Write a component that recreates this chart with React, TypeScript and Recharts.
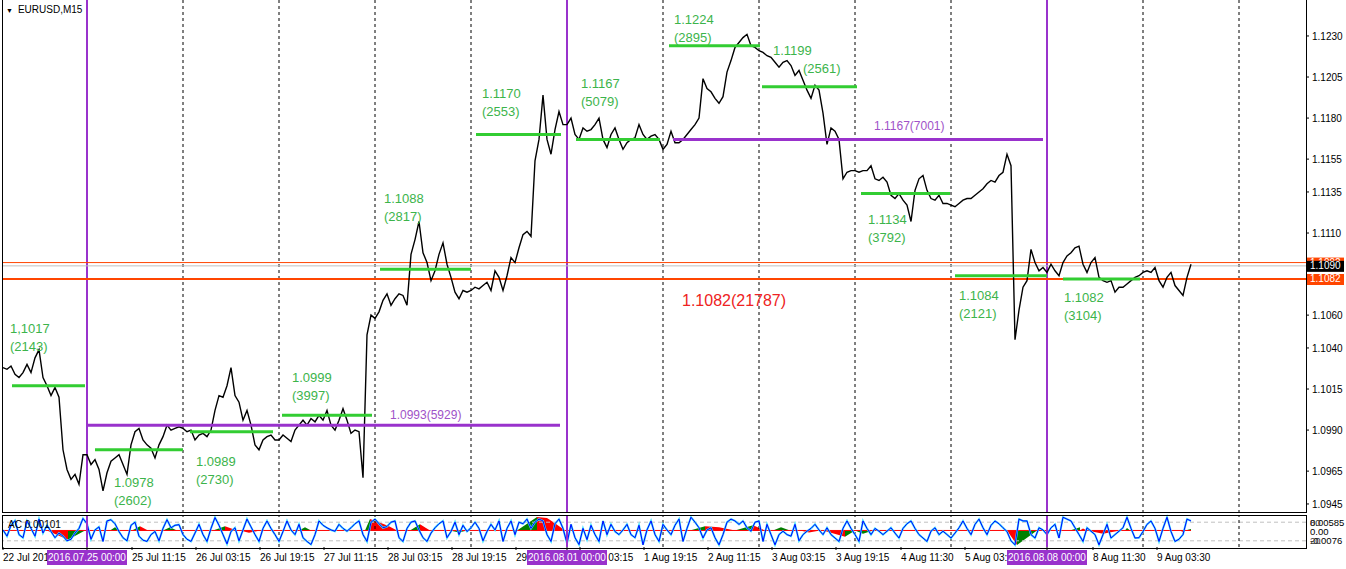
import React from 'react';
import { ComposedChart, Line, Area, XAxis, YAxis, ReferenceLine, ReferenceDot } from 'recharts';

const W = 1346;
const FONT = '"Liberation Sans", Arial, sans-serif';
const GREEN = '#32cd32';
const GREEN_TEXT = '#3cb44b';
const PURPLE = '#9932cc';
const PURPLE_TEXT = '#a052c8';
const RED = '#ff4500';

// x = trading hours from 2016.07.25 00:00 (M15 bars, weekends skipped)
const X_DOMAIN: [number, number] = [-21.25, 304.75];
const FIRST_HOUR = -21;

// EURUSD close, one value per hour
const jul22 = [1.1028, 1.1027, 1.1029, 1.1024, 1.1022, 1.1025, 1.1030, 1.1025, 1.1034, 1.1039, 1.1022, 1.1017, 1.1011, 1.1016, 1.1010, 1.0978, 1.0966, 1.0960, 1.0963, 1.0957, 1.0975];
const jul25 = [1.0975, 1.0969, 1.0972, 1.0966, 1.0953, 1.0964, 1.0971, 1.0973, 1.0975, 1.0969, 1.0963, 1.0981, 1.0989, 1.0991, 1.0984, 1.0981, 1.0979, 1.0973, 1.0981, 1.0986, 1.0993, 1.0990, 1.0991, 1.0992];
const jul26 = [1.0991, 1.0989, 1.0990, 1.0984, 1.0987, 1.0988, 1.0986, 1.0990, 1.1002, 1.1011, 1.1010, 1.1017, 1.1028, 1.1011, 1.1007, 1.0996, 1.1002, 1.0993, 1.0981, 1.0978, 1.0984, 1.0986, 1.0987, 1.0984];
const jul27 = [1.0984, 1.0987, 1.0985, 1.0983, 1.0990, 1.0993, 1.0996, 1.0993, 1.0997, 1.0995, 1.0999, 1.0996, 1.1002, 1.0993, 1.0990, 1.0996, 1.1003, 1.0996, 1.0988, 1.0990, 1.0989, 1.0961, 1.1048, 1.1060];
const jul28 = [1.1058, 1.1062, 1.1069, 1.1073, 1.1066, 1.1070, 1.1073, 1.1072, 1.1066, 1.1097, 1.1106, 1.1117, 1.1098, 1.1092, 1.1081, 1.1087, 1.1097, 1.1104, 1.1091, 1.1083, 1.1074, 1.1070, 1.1075, 1.1074];
const jul29 = [1.1075, 1.1077, 1.1076, 1.1078, 1.1080, 1.1075, 1.1087, 1.1083, 1.1075, 1.1084, 1.1095, 1.1092, 1.1101, 1.1109, 1.1111, 1.1108, 1.1154, 1.1167, 1.1194, 1.1167, 1.1158, 1.1173, 1.1184, 1.1176];
const aug01 = [1.1176, 1.1180, 1.1170, 1.1167, 1.1174, 1.1172, 1.1173, 1.1176, 1.1180, 1.1167, 1.1162, 1.1170, 1.1174, 1.1167, 1.1161, 1.1165, 1.1167, 1.1168, 1.1176, 1.1170, 1.1167, 1.1169, 1.1170, 1.1167];
const aug02 = [1.1161, 1.1164, 1.1172, 1.1165, 1.1165, 1.1167, 1.1170, 1.1173, 1.1176, 1.1180, 1.1204, 1.1198, 1.1196, 1.1192, 1.1189, 1.1193, 1.1208, 1.1215, 1.1223, 1.1226, 1.1229, 1.1231, 1.1224, 1.1223];
const aug03 = [1.1221, 1.1220, 1.1218, 1.1217, 1.1214, 1.1211, 1.1214, 1.1215, 1.1212, 1.1206, 1.1209, 1.1203, 1.1197, 1.1192, 1.1200, 1.1197, 1.1183, 1.1164, 1.1174, 1.1172, 1.1167, 1.1143, 1.1147, 1.1148];
const aug04 = [1.1148, 1.1147, 1.1148, 1.1148, 1.1151, 1.1143, 1.1142, 1.1144, 1.1141, 1.1133, 1.1131, 1.1134, 1.1130, 1.1127, 1.1117, 1.1136, 1.1143, 1.1145, 1.1136, 1.1131, 1.1130, 1.1133, 1.1128, 1.1128];
const aug05 = [1.1127, 1.1126, 1.1128, 1.1130, 1.1131, 1.1131, 1.1133, 1.1135, 1.1137, 1.1140, 1.1142, 1.1141, 1.1145, 1.1147, 1.1158, 1.1151, 1.1045, 1.1063, 1.1077, 1.1081, 1.1100, 1.1092, 1.1087, 1.1089];
const aug08 = [1.1086, 1.1091, 1.1087, 1.1084, 1.1092, 1.1096, 1.1098, 1.1101, 1.1102, 1.1091, 1.1086, 1.1092, 1.1095, 1.1083, 1.1081, 1.1080, 1.1081, 1.1074, 1.1077, 1.1077, 1.1079, 1.1081, 1.1083, 1.1084];
const aug09 = [1.1086, 1.1087, 1.1086, 1.1089, 1.1081, 1.1077, 1.1083, 1.1086, 1.1078, 1.1075, 1.1072, 1.1083, 1.1091];

// oscillator (0-100), same hours
const stJul22 = [55, 35, 70, 85, 40, 30, 84, 60, 35, 90, 45, 70, 50, 30, 45, 35, 20, 25, 45, 60, 92];
const stJul25 = [75, 25, 55, 65, 18, 84, 88, 75, 50, 30, 20, 70, 80, 35, 22, 18, 40, 50, 20, 60, 88, 62, 70, 72];
const stJul26 = [40, 25, 18, 45, 73, 40, 18, 60, 95, 70, 40, 10, 50, 62, 20, 55, 90, 65, 40, 18, 60, 84, 60, 40];
const stJul27 = [18, 50, 84, 55, 40, 73, 30, 18, 8, 40, 84, 70, 62, 55, 51, 73, 60, 51, 62, 75, 84, 40, 18, 80];
const stJul28 = [90, 75, 62, 66, 80, 84, 30, 18, 60, 80, 84, 55, 30, 18, 45, 62, 75, 84, 30, 50, 80, 40, 70, 50];
const stJul29 = [62, 80, 60, 20, 50, 73, 55, 84, 18, 60, 84, 40, 80, 75, 90, 60, 80, 90, 84, 40, 18, 75, 90, 60];
const stAug01 = [12, 73, 30, 8, 60, 24, 70, 40, 18, 84, 40, 73, 50, 40, 55, 73, 40, 30, 70, 7, 55, 84, 40, 18];
const stAug02 = [73, 55, 40, 70, 90, 18, 60, 96, 80, 62, 29, 55, 62, 30, 7, 40, 80, 90, 84, 73, 84, 62, 51, 80];
const stAug03 = [84, 18, 73, 40, 7, 40, 51, 40, 35, 73, 20, 40, 51, 60, 73, 55, 40, 62, 40, 29, 18, 60, 84, 60];
const stAug04 = [40, 18, 84, 60, 40, 60, 51, 40, 51, 62, 45, 29, 60, 75, 84, 60, 40, 29, 18, 51, 62, 40, 51, 40];
const stAug05 = [29, 45, 62, 84, 60, 40, 73, 90, 62, 40, 70, 84, 75, 62, 50, 20, 7, 90, 84, 84, 40, 29, 62, 55];
const stAug08 = [40, 62, 73, 29, 96, 90, 84, 62, 40, 18, 62, 51, 40, 7, 40, 73, 29, 40, 51, 62, 96, 60, 29, 30];
const stAug09 = [50, 73, 84, 60, 18, 60, 96, 50, 18, 25, 40, 90, 84];

// AC histogram, [hour, value]
const acGreen = [
  [-4.75, 0], [-4.75, -0.0059], [-0.5, 0], [5.75, 0], [7, 0.002], [8.25, 0], [11.25, 0], [13.25, 0.0026], [13.25, 0],
  [19, 0], [20.75, 0.002], [22.5, 0], [31.5, 0], [34.5, 0.0026], [34.5, 0], [53, 0], [54.5, 0.002], [56, 0],
  [69.5, 0], [70.75, 0.0072], [70.75, 0], [80.75, 0], [83.25, 0.0039], [83.25, 0], [90.75, 0], [93, -0.0013], [95, 0],
  [107.5, 0], [112.5, 0.0085], [112.5, 0], [150.75, 0], [154.5, 0.0026], [154.5, 0], [162, 0], [166.5, 0.0033], [166.5, 0],
  [171.5, 0], [173.5, 0.002], [175.75, 0], [189.5, 0], [189.5, -0.0039], [192, 0], [194, -0.002], [196.5, 0],
  [232.5, 0], [232.5, -0.0091], [237.5, 0], [245.75, 0], [248.25, 0.002], [248.25, 0], [259.5, 0], [260, 0.0015], [260.75, 0],
  [274.5, 0], [276, 0.001],
];
const acRed = [
  [-10, 0], [-4.75, -0.0059], [-3.75, 0], [13.25, 0], [13.25, 0.0026], [15.25, 0], [34.5, 0], [34.5, 0.0026], [37.5, 0],
  [38.25, 0], [40.5, -0.0015], [43.25, 0], [70.75, 0], [70.75, 0.0072], [73, 0.0052], [75.5, 0.0026], [77.5, 0],
  [83.25, 0], [83.25, 0.0039], [85.75, 0], [112.5, 0], [112.5, 0.0085], [115, 0.0078], [117, 0.0045], [119.5, 0],
  [154.5, 0], [154.5, 0.0026], [158, 0.002], [162, 0], [166.5, 0], [166.5, 0.0033], [169.5, 0],
  [178.25, 0], [180.5, -0.0013], [183.25, 0], [184, 0], [189.5, -0.0039], [189.5, 0],
  [230, 0], [232.5, -0.0091], [232.5, 0], [248.25, 0], [249, 0.0013], [250, 0], [254, -0.002], [258.25, 0],
  [273.25, 0], [274, -0.001], [274.5, 0],
];

// daily levels
const dayLevels = [1.1017, 1.0978, 1.0989, 1.0999, 1.1088, 1.1170, 1.1167, 1.1224, 1.1199, 1.1134, 1.1084, 1.1082];
const dayLabels = ['1,1017', '1.0978', '1.0989', '1.0999', '1.1088', '1.1170', '1.1167', '1.1224', '1.1199', '1.1134', '1.1084', '1.1082'];
const dayCounts = [2143, 2602, 2730, 3997, 2817, 2553, 5079, 2895, 2561, 3792, 2121, 3104];
const dayFrom = [-18.75, 2, 25.75, 48.75, 73.25, 97.25, 122.25, 145.5, 168.75, 193.5, 217, 244];
const dayTo = [-0.5, 24, 46.5, 71.25, 96, 118.5, 143.25, 168.25, 192.5, 215.75, 240, 263.25];
const dayTextAt = [-19.25, 6.75, 27.25, 51.25, 74.25, 98.75, 123.5, 146.75, 171.5, 195.25, 218, 244.25];
const dayCountAt = [-19.25, 6.75, 27.25, 51.25, 74.25, 98.75, 123.5, 146.75, 179, 195.25, 218, 244.25];
const dayTextPrice = [1.1052, 1.0958, 1.0971, 1.1022, 1.1131, 1.1195, 1.1201, 1.1240, 1.1221, 1.1118, 1.1072, 1.1071];

// weekly levels
const weekLevels = [1.0993, 1.1167];
const weekCounts = [5929, 7001];
const weekFrom = [0, 146.5];
const weekTo = [118.25, 239];
const weekTextAt = [75.75, 196.75];
const weekTextPrice = [1.0999, 1.1175];

const monthLevel = 1.1082;
const monthCount = 21787;
const monthTextAt = 148.75;
const monthTextPrice = 1.1069;

const bid = 1.1090;
const ask = 1.1092;

const priceTicks = [1.1230, 1.1205, 1.1180, 1.1155, 1.1135, 1.1110, 1.1060, 1.1040, 1.1015, 1.0990, 1.0965, 1.0945];
const dayStarts = [24, 48, 72, 96, 144, 168, 192, 216, 264, 288];
const weekStarts = [0, 120, 240];
const tickHours = [-21, 11.25, 27.25, 43.25, 59.25, 75.25, 91.25, 107.25, 123.25, 139.25, 155.25, 171.25, 187.25, 203.5, 219.5, 251.5, 267.5, 0, 120, 240];
const tickLabels = ['22 Jul 2016', '25 Jul 11:15', '26 Jul 03:15', '26 Jul 19:15', '27 Jul 11:15', '28 Jul 03:15', '28 Jul 19:15', '29 Jul 11:15', '1 Aug 03:15', '1 Aug 19:15', '2 Aug 11:15', '3 Aug 03:15', '3 Aug 19:15', '4 Aug 11:30', '5 Aug 03:30', '8 Aug 11:30', '9 Aug 03:30', '2016.07.25 00:00', '2016.08.01 00:00', '2016.08.08 00:00'];
const oscLevels = [80, 50, 20];
const oscTags = ['80', '', '20'];
const acTags = ['0.00585', '0.00', '-0.0076'];

const closes = [...jul22, ...jul25, ...jul26, ...jul27, ...jul28, ...jul29, ...aug01, ...aug02, ...aug03, ...aug04, ...aug05, ...aug08, ...aug09];
const stochs = [...stJul22, ...stJul25, ...stJul26, ...stJul27, ...stJul28, ...stJul29, ...stAug01, ...stAug02, ...stAug03, ...stAug04, ...stAug05, ...stAug08, ...stAug09];
const bars = closes.map((close, i) => ({ t: FIRST_HOUR + i, close, stoch: stochs[i] }));
const toPoints = (pts: number[][]) => pts.map(([t, v]) => ({ t, v }));

const PriceTag = ({ viewBox, value, fill, color }: any) => {
  const x = viewBox.x + viewBox.width + 1;
  return (
    <g>
      <rect x={x} y={viewBox.y - 5} width={37} height={11} fill={fill} />
      <text x={x + 3} y={viewBox.y} dy="0.35em" fontSize={10} fontFamily={FONT} fill={color}>{value.toFixed(4)}</text>
    </g>
  );
};

const textShape = (text: string, color: string, size: number, dy = 0) => (p: any) => (
  <text x={p.cx} y={p.cy + dy} dy="0.35em" fontSize={size} fontFamily={FONT} fill={color}>{text}</text>
);

const TimeTick = (props: any) => {
  const { x, y, payload } = props;
  const i = tickHours.indexOf(payload.value);
  const label = tickLabels[i];
  if (weekStarts.includes(payload.value)) {
    return (
      <g>
        <rect x={x - 40} y={y - 2} width={80} height={15} fill={PURPLE} />
        <text x={x} y={y + 9} textAnchor="middle" fontSize={10} fontFamily={FONT} fill="#fff">{label}</text>
      </g>
    );
  }
  return <text x={x} y={y + 9} textAnchor="start" fontSize={10} fontFamily={FONT} fill="#000">{label}</text>;
};

const ScaleTick = (props: any) => {
  const { x, y, index } = props;
  return (
    <g fontSize={9.5} fontFamily={FONT} fill="#000">
      <text x={x} y={y} dy="0.35em">{acTags[index]}</text>
      {oscTags[index] && <text x={x} y={y} dy="0.35em" fill="#333">{oscTags[index]}</text>}
    </g>
  );
};

export default function App() {
  return (
    <div style={{ position: 'absolute', left: 0, top: 0, width: W, height: 569, background: '#fff', fontFamily: FONT }}>
      <div style={{ position: 'absolute', left: 0, top: 0 }}>
        <ComposedChart width={W} height={513} data={bars} margin={{ top: 0, right: 0, bottom: 0, left: 2 }}>
          <XAxis type="number" dataKey="t" domain={X_DOMAIN} hide allowDataOverflow />
          <YAxis orientation="right" width={40} domain={[1.09395, 1.12519]} ticks={priceTicks} interval={0} allowDataOverflow
            axisLine={false} tickSize={3} tickMargin={3} tickLine={{ stroke: '#000' }}
            tick={{ fontSize: 10, fill: '#000', fontFamily: FONT }} tickFormatter={(v: number) => v.toFixed(4)} />
          {dayStarts.map(t => <ReferenceLine key={'d' + t} x={t} stroke="#000" strokeDasharray="3 3" />)}
          {weekStarts.map(t => <ReferenceLine key={'w' + t} x={t} stroke={PURPLE} strokeWidth={2} />)}
          <ReferenceLine y={ask} stroke={RED} strokeWidth={1} label={(p: any) => <PriceTag {...p} value={ask} fill={RED} color="#fff" />} />
          <ReferenceLine y={bid} stroke="#c0c0c0" strokeWidth={1} label={(p: any) => <PriceTag {...p} value={bid} fill="#000" color="#fff" />} />
          <ReferenceLine y={monthLevel} stroke={RED} strokeWidth={2} label={(p: any) => <PriceTag {...p} value={monthLevel} fill={RED} color="#fff" />} />
          <Line type="linear" dataKey="close" stroke="#000" strokeWidth={1.4} dot={false} isAnimationActive={false} />
          {dayLevels.map((v, i) => (
            <ReferenceLine key={'dl' + i} segment={[{ x: dayFrom[i], y: v }, { x: dayTo[i], y: v }]} stroke={GREEN} strokeWidth={3} />
          ))}
          {weekLevels.map((v, i) => (
            <ReferenceLine key={'wl' + i} segment={[{ x: weekFrom[i], y: v }, { x: weekTo[i], y: v }]} stroke={PURPLE} strokeWidth={3} />
          ))}
          {dayLevels.map((_, i) => (
            <ReferenceDot key={'dt' + i} x={dayTextAt[i]} y={dayTextPrice[i]} shape={textShape(dayLabels[i], GREEN_TEXT, 13)} />
          ))}
          {dayLevels.map((_, i) => (
            <ReferenceDot key={'dc' + i} x={dayCountAt[i]} y={dayTextPrice[i]} shape={textShape(`(${dayCounts[i]})`, GREEN_TEXT, 13, 18)} />
          ))}
          {weekLevels.map((v, i) => (
            <ReferenceDot key={'wt' + i} x={weekTextAt[i]} y={weekTextPrice[i]} shape={textShape(`${v.toFixed(4)}(${weekCounts[i]})`, PURPLE_TEXT, 12)} />
          ))}
          <ReferenceDot x={monthTextAt} y={monthTextPrice} shape={textShape(`${monthLevel.toFixed(4)}(${monthCount})`, '#ee2222', 16)} />
        </ComposedChart>
      </div>
      <div style={{ position: 'absolute', left: 0, top: 512 }}>
        <ComposedChart width={W} height={57} data={bars} margin={{ top: 4, right: 0, bottom: 0, left: 2 }}>
          <XAxis type="number" dataKey="t" domain={X_DOMAIN} allowDataOverflow ticks={tickHours} interval={0} height={22}
            axisLine={false} tickSize={3} tickLine={{ stroke: '#000' }} tick={(p: any) => <TimeTick {...p} />} />
          <YAxis yAxisId="osc" orientation="right" width={40} domain={[0, 100]} ticks={oscLevels} interval={0}
            axisLine={false} tickLine={false} tickSize={0} tickMargin={4} tick={(p: any) => <ScaleTick {...p} />} />
          <YAxis yAxisId="ac" hide domain={[-0.0104, 0.0091]} allowDataOverflow />
          <ReferenceLine yAxisId="osc" y={80} stroke="#c0c0c0" strokeDasharray="4 3" />
          <ReferenceLine yAxisId="osc" y={20} stroke="#c0c0c0" strokeDasharray="4 3" />
          {dayStarts.map(t => <ReferenceLine key={'d' + t} yAxisId="osc" x={t} stroke="#000" strokeDasharray="3 3" />)}
          <Area yAxisId="ac" data={toPoints(acRed)} dataKey="v" type="linear" baseValue={0} stroke="none" fill="#ff0000" fillOpacity={1} isAnimationActive={false} />
          <Area yAxisId="ac" data={toPoints(acGreen)} dataKey="v" type="linear" baseValue={0} stroke="none" fill="#008000" fillOpacity={1} isAnimationActive={false} />
          <ReferenceLine yAxisId="ac" segment={[{ x: FIRST_HOUR, y: 0 }, { x: 276, y: 0 }]} stroke="#ff0000" />
          <Line yAxisId="osc" type="linear" dataKey="stoch" stroke="#40e0ff" strokeWidth={2} dot={false} isAnimationActive={false} />
          <Line yAxisId="osc" type="linear" dataKey="stoch" stroke="#0000ff" strokeWidth={1} dot={false} isAnimationActive={false} />
          {weekStarts.map(t => <ReferenceLine key={'w' + t} yAxisId="osc" x={t} stroke={PURPLE} strokeWidth={2} />)}
        </ComposedChart>
      </div>
      <div style={{ position: 'absolute', left: 2, top: 0, width: 1305, height: 513, boxSizing: 'border-box', borderLeft: '1px solid #000', borderRight: '1px solid #000', borderBottom: '1px solid #000', pointerEvents: 'none' }} />
      <div style={{ position: 'absolute', left: 2, top: 515, width: 1305, height: 34, boxSizing: 'border-box', border: '1px solid #000', pointerEvents: 'none' }} />
      <div style={{ position: 'absolute', left: 6, top: 4, fontSize: 10, color: '#000', whiteSpace: 'nowrap' }}>
        <span style={{ fontSize: 7, marginRight: 5 }}>▼</span>EURUSD,M15
      </div>
      <div style={{ position: 'absolute', left: 8, top: 519, fontSize: 10, color: '#000', whiteSpace: 'nowrap' }}>AC 0.00101</div>
    </div>
  );
}
